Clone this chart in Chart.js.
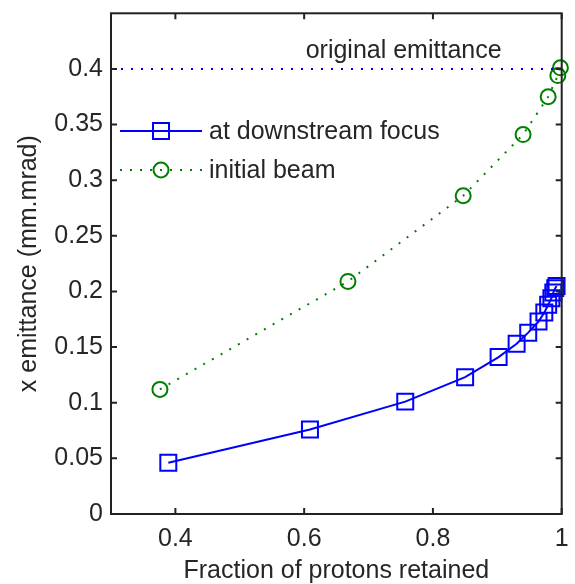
<!DOCTYPE html>
<html>
<head>
<meta charset="utf-8">
<script src="https://cdn.jsdelivr.net/npm/chart.js@4/dist/chart.umd.min.js"></script>
<style>
html,body{margin:0;padding:0;background:#fff;}
#wrap{width:575px;height:584px;}
</style>
</head>
<body>
<div id="wrap"><canvas id="c" width="575" height="584"></canvas></div>
<script>
// ---- data ----
const focusX = [0.389, 0.609, 0.757, 0.850, 0.902, 0.930, 0.948, 0.964, 0.973, 0.979, 0.984, 0.987, 0.990, 0.992];
const focusY = [0.046, 0.076, 0.101, 0.123, 0.141, 0.153, 0.163, 0.173, 0.181, 0.188, 0.194, 0.199, 0.203, 0.205];
const initX = [0.376, 0.668, 0.847, 0.940, 0.979, 0.994, 0.998];
const initY = [0.112, 0.209, 0.286, 0.341, 0.375, 0.394, 0.401];
const origX = [0.3, 1.0];
const origY = [0.4, 0.4];
const xTicks = [0.4, 0.6, 0.8, 1];
const yTicks = [0, 0.05, 0.1, 0.15, 0.2, 0.25, 0.3, 0.35, 0.4];
const seriesNames = ['at downstream focus', 'initial beam'];
const refLabel = 'original emittance';

const FONT = 'Liberation Sans, Arial, sans-serif';
const FS = 25;
const TXT = '#262626';
const BLUE = '#0000ff';
const GREEN = '#008000';

const pts = (xs, ys) => xs.map((x, i) => ({x: x, y: ys[i]}));

const boxPlugin = {
  id: 'boxPlugin',
  afterDatasetsDraw(chart) {
    const ctx = chart.ctx;
    const a = chart.chartArea;
    const xs = chart.scales.x, ys = chart.scales.y;
    ctx.save();
    // reference label
    ctx.fillStyle = TXT;
    ctx.font = FS + 'px ' + FONT;
    ctx.textAlign = 'center';
    ctx.textBaseline = 'alphabetic';
    ctx.fillText(refLabel, xs.getPixelForValue(0.7545), ys.getPixelForValue(0.4) - 11);
    // legend
    const lx0 = a.left + 9, lx1 = a.left + 91, lmid = a.left + 50, ltx = a.left + 98;
    const ly1 = 131, ly2 = 170;
    ctx.lineWidth = 2;
    ctx.strokeStyle = BLUE;
    ctx.beginPath(); ctx.moveTo(lx0, ly1); ctx.lineTo(lx1, ly1); ctx.stroke();
    ctx.strokeRect(lmid - 8, ly1 - 8, 16, 16);
    ctx.strokeStyle = GREEN;
    ctx.setLineDash([2, 8]);
    ctx.beginPath(); ctx.moveTo(lx0, ly2); ctx.lineTo(lx1, ly2); ctx.stroke();
    ctx.setLineDash([]);
    ctx.beginPath(); ctx.arc(lmid, ly2, 7.5, 0, Math.PI * 2); ctx.stroke();
    ctx.fillStyle = TXT;
    ctx.textAlign = 'left';
    ctx.textBaseline = 'middle';
    ctx.fillText(seriesNames[0], ltx, ly1 + 1);
    ctx.fillText(seriesNames[1], ltx, ly2 + 1);
    // box + inward ticks
    ctx.strokeStyle = '#222';
    ctx.lineWidth = 2;
    ctx.strokeRect(a.left, a.top, a.right - a.left, a.bottom - a.top);
    const tl = 6;
    ctx.beginPath();
    xTicks.forEach(v => {
      const p = xs.getPixelForValue(v);
      ctx.moveTo(p, a.bottom); ctx.lineTo(p, a.bottom - tl);
      ctx.moveTo(p, a.top); ctx.lineTo(p, a.top + tl);
    });
    yTicks.forEach(v => {
      const p = ys.getPixelForValue(v);
      ctx.moveTo(a.left, p); ctx.lineTo(a.left + tl, p);
      ctx.moveTo(a.right, p); ctx.lineTo(a.right - tl, p);
    });
    ctx.stroke();
    ctx.restore();
  }
};

new Chart(document.getElementById('c'), {
  type: 'scatter',
  data: {
    datasets: [
      {
        label: refLabel,
        data: pts(origX, origY),
        showLine: true,
        borderColor: BLUE,
        borderWidth: 2,
        borderDash: [2, 8],
        pointRadius: 0,
        clip: false
      },
      {
        label: seriesNames[1],
        data: pts(initX, initY),
        showLine: true,
        borderColor: GREEN,
        borderWidth: 2,
        borderDash: [2, 8],
        pointStyle: 'circle',
        pointRadius: 7.5,
        pointBorderWidth: 2,
        pointBorderColor: GREEN,
        pointBackgroundColor: 'rgba(0,0,0,0)',
        clip: false
      },
      {
        label: seriesNames[0],
        data: pts(focusX, focusY),
        showLine: true,
        borderColor: BLUE,
        borderWidth: 2,
        pointStyle: 'rect',
        pointRadius: 11.3,
        pointBorderWidth: 2,
        pointBorderColor: BLUE,
        pointBackgroundColor: 'rgba(0,0,0,0)',
        clip: false
      }
    ]
  },
  options: {
    responsive: false,
    animation: false,
    devicePixelRatio: 1,
    layout: {padding: {top: 12, right: 8, left: 0, bottom: 0}},
    plugins: {legend: {display: false}, tooltip: {enabled: false}},
    scales: {
      x: {
        type: 'linear', min: 0.3, max: 1,
        afterBuildTicks: s => { s.ticks = xTicks.map(v => ({value: v})); },
        afterFit: s => { s.height = 70; s.paddingLeft = 0; s.paddingRight = 0; },
        grid: {display: false, drawTicks: false},
        border: {display: false},
        ticks: {
          color: TXT, font: {family: FONT, size: FS}, padding: 10, maxRotation: 0,
          callback: v => String(Math.round(v * 100) / 100)
        },
        title: {display: true, text: 'Fraction of protons retained', color: TXT,
                font: {family: FONT, size: FS}, padding: {top: 0, bottom: -2}}
      },
      y: {
        type: 'linear', min: 0, max: 0.45,
        afterBuildTicks: s => { s.ticks = yTicks.map(v => ({value: v})); },
        afterFit: s => { s.width = 111; s.paddingTop = 0; s.paddingBottom = 0; },
        grid: {display: false, drawTicks: false},
        border: {display: false},
        ticks: {
          color: TXT, font: {family: FONT, size: FS}, padding: 8,
          callback: v => String(Math.round(v * 100) / 100)
        },
        title: {display: true, text: 'x emittance (mm.mrad)', color: TXT,
                font: {family: FONT, size: FS}, padding: {top: 14, bottom: 0}}
      }
    }
  },
  plugins: [boxPlugin]
});
</script>
</body>
</html>
